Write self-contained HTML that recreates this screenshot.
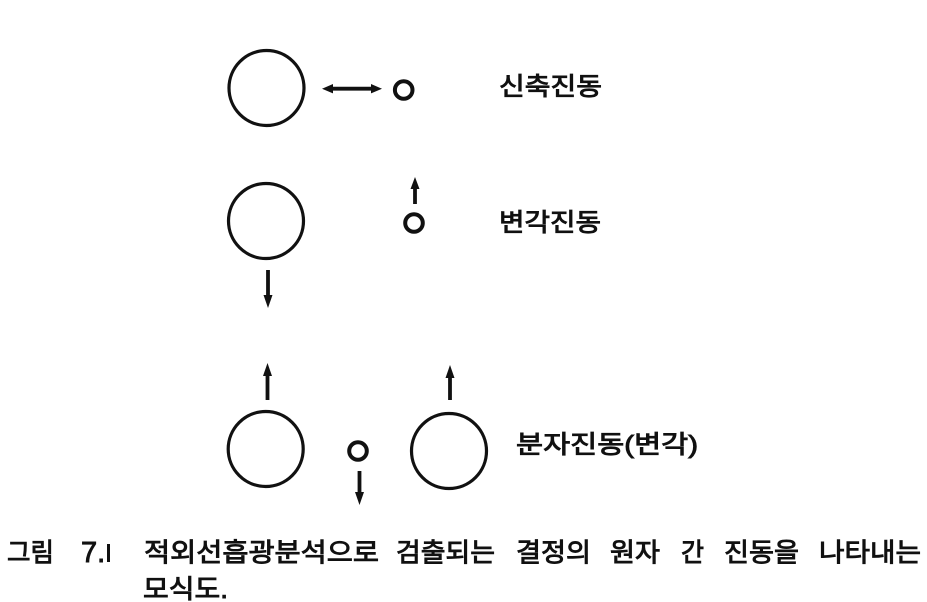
<!DOCTYPE html>
<html lang="ko">
<head>
<meta charset="utf-8">
<style>
html,body{margin:0;padding:0;background:#fff;}
svg{display:block;}
text{font-family:"Liberation Sans","Noto Sans CJK KR",sans-serif;fill:#111;font-weight:400;stroke:#111;stroke-width:.9px;}
</style>
</head>
<body>
<svg width="927" height="602" viewBox="0 0 927 602" xmlns="http://www.w3.org/2000/svg">
<g fill="none" stroke="#111" stroke-width="3.200">
<circle cx="266.500" cy="88" r="37.500"/>
<circle cx="266" cy="221" r="37.500"/>
<circle cx="265.700" cy="449" r="37.500"/>
<circle cx="449" cy="451" r="37.500"/>
</g>
<g fill="none" stroke="#111" stroke-width="4">
<circle cx="403.700" cy="90" r="8.800"/>
<circle cx="414" cy="223" r="8.800"/>
<circle cx="358" cy="451" r="8.800"/>
</g>
<g stroke="#111" stroke-width="3.800" fill="#111">
<line x1="328" y1="88.700" x2="376" y2="88.700"/>
<line x1="415" y1="186" x2="415" y2="204"/>
<line x1="268" y1="270" x2="268" y2="298"/>
<line x1="267.500" y1="372" x2="267.500" y2="400"/>
<line x1="450" y1="374" x2="450" y2="400"/>
<line x1="359.500" y1="471" x2="359.500" y2="495"/>
</g>
<g fill="#111">
<path d="M322,88.700 L333,84 L333,93.400 Z"/>
<path d="M382,88.700 L371,84 L371,93.400 Z"/>
<path d="M415,177 L410.500,189 L419.500,189 Z"/>
<path d="M268,308 L263.500,295 L272.500,295 Z"/>
<path d="M267.500,363 L263,376 L272,376 Z"/>
<path d="M450,365 L445.500,378 L454.500,378 Z"/>
<path d="M359.500,505 L355,492 L364,492 Z"/>
</g>
<g font-size="25">
<text x="499" y="95" textLength="103" lengthAdjust="spacingAndGlyphs">신축진동</text>
<text x="499" y="231" textLength="102" lengthAdjust="spacingAndGlyphs">변각진동</text>
<text x="516" y="453" textLength="182" lengthAdjust="spacingAndGlyphs">분자진동(변각)</text>
</g>
<g font-size="26">
<text x="7" y="561.500" textLength="47" lengthAdjust="spacingAndGlyphs">그림</text>
<text x="81" y="562" font-size="29" style="font-family:'Liberation Sans',sans-serif">7.</text>
<rect x="107" y="544" width="3" height="18" fill="#111"/>
<text x="144" y="561.500" textLength="235" lengthAdjust="spacingAndGlyphs">적외선흡광분석으로</text>
<text x="396" y="561.500" textLength="99" lengthAdjust="spacingAndGlyphs">검출되는</text>
<text x="516" y="561.500" textLength="75" lengthAdjust="spacingAndGlyphs">결정의</text>
<text x="610" y="561.500" textLength="50" lengthAdjust="spacingAndGlyphs">원자</text>
<text x="681" y="561.500" textLength="23" lengthAdjust="spacingAndGlyphs">간</text>
<text x="724" y="561.500" textLength="75" lengthAdjust="spacingAndGlyphs">진동을</text>
<text x="819" y="561.500" textLength="102" lengthAdjust="spacingAndGlyphs">나타내는</text>
<text x="143" y="598" textLength="85" lengthAdjust="spacingAndGlyphs">모식도.</text>
</g>
</svg>
</body>
</html>
